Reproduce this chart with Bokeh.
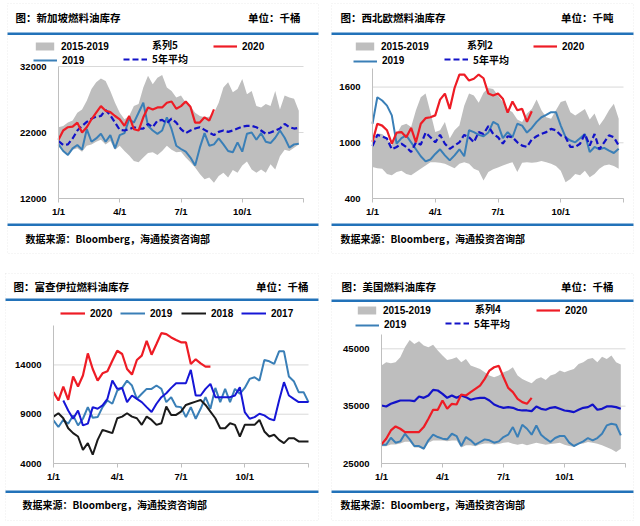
from bokeh.plotting import figure
from bokeh.models import Range1d, FixedTicker, Label, BoxAnnotation, Legend, LegendItem, LinearAxis
from bokeh.layouts import column, row
from bokeh.embed import file_html
from bokeh.resources import INLINE

# ---------------- data ----------------
weeks = list(range(53))
x_first, x_last = 0, 52
x_tick_pos = [0, 13, 26, 39, 52]
x_tick_labels = ["1/1", "4/1", "7/1", "10/1", ""]

# Singapore (千桶)
sg_yticks = [12000, 22000, 32000]
sg_hi = [22800, 23000, 23500, 23800, 25000, 25500, 26800, 28600, 29600, 30200, 29800, 28300, 26500, 25000, 24000, 24500, 26000, 26300, 28800, 30600, 29300, 30300, 30700, 28800, 28300, 27300, 27600, 26500, 26000, 25000, 24500, 24300, 24400, 25000, 26500, 28800, 29600, 28100, 28600, 30100, 27800, 28300, 26000, 25800, 26300, 26000, 28300, 25500, 27600, 27300, 27100, 25300]
sg_lo = [20000, 19100, 18500, 19400, 19600, 19100, 20000, 20200, 20600, 20900, 20200, 20700, 19400, 20000, 19200, 18500, 17700, 17500, 18200, 18900, 19000, 18600, 19200, 20000, 19400, 19000, 19100, 18200, 17500, 16700, 15700, 14900, 15200, 14400, 15400, 15900, 15200, 16300, 15900, 17000, 17600, 16400, 15900, 16400, 15900, 17200, 16400, 18400, 19400, 19200, 19700, 20200]
sg_2019 = [20200, 19200, 18600, 19600, 20100, 19400, 22500, 20600, 21100, 21800, 20600, 21600, 19600, 21600, 21900, 24000, 23500, 25000, 26500, 23000, 22300, 21800, 22300, 24300, 22500, 20000, 19500, 19100, 18200, 17000, 19700, 21900, 20000, 20200, 21100, 20200, 19200, 19000, 20500, 19100, 21800, 22000, 20900, 21900, 20600, 20400, 21200, 22300, 21200, 19700, 20200, 20300]
sg_avg = [20700, 20100, 20200, 21100, 22300, 23000, 23600, 24100, 24400, 24500, 25400, 24600, 23500, 22400, 22300, 22500, 22800, 22600, 22600, 23300, 22800, 23800, 23900, 23400, 24100, 23500, 22500, 21900, 22300, 22600, 22800, 22400, 22000, 21600, 22100, 22300, 22100, 22300, 22600, 22900, 23000, 23000, 22800, 22300, 21800, 22000, 22300, 22600, 23300, 22800, 22600, 22700]
sg_2020 = [20900, 22300, 22800, 22900, 23500, 22000, 22800, 24000, 25000, 26000, 25300, 25100, 24500, 24000, 23000, 24500, 22500, 22300, 24300, 25800, 25500, 25800, 25800, 26500, 26700, 25600, 26000, 26700, 25900, 23500, 23500, 24300, 23800, 25500]

# NW Europe (千吨)
nw_yticks = [400, 1000, 1600]
nw_hi = [1005, 1100, 1095, 1045, 970, 1095, 1185, 1205, 1170, 1350, 1490, 1530, 1330, 1115, 1135, 1225, 1045, 1135, 1185, 1400, 1530, 1510, 1430, 1540, 1590, 1580, 1510, 1440, 1365, 1330, 1250, 1225, 1315, 1365, 1465, 1350, 1275, 1260, 1350, 1440, 1455, 1330, 1295, 1330, 1365, 1250, 1315, 1185, 1260, 1350, 1420, 1260]
nw_lo = [740, 725, 720, 665, 650, 685, 700, 665, 650, 685, 720, 755, 790, 790, 785, 775, 750, 725, 775, 790, 775, 720, 700, 595, 685, 715, 735, 755, 775, 790, 685, 785, 790, 785, 790, 805, 790, 775, 750, 700, 575, 610, 665, 650, 700, 630, 665, 720, 755, 765, 750, 720]
nw_2019 = [1205, 1490, 1455, 1400, 1295, 990, 1050, 1080, 1005, 930, 855, 800, 820, 880, 930, 865, 810, 865, 930, 855, 1135, 1115, 1085, 1070, 1110, 1225, 1195, 1050, 1115, 1060, 1205, 1185, 1110, 1160, 1225, 1275, 1300, 1330, 1330, 1185, 1060, 1025, 1005, 1050, 1095, 900, 955, 930, 945, 915, 890, 935]
nw_avg = [965, 1085, 1070, 1045, 930, 955, 990, 955, 900, 1005, 980, 1110, 1060, 1005, 1085, 990, 935, 970, 1005, 1085, 1060, 1005, 1115, 1095, 1180, 1095, 1060, 990, 1070, 1060, 1005, 970, 955, 1035, 1070, 1095, 1115, 1150, 1135, 1080, 1060, 955, 955, 990, 1095, 970, 1095, 930, 1005, 1080, 1060, 970]
nw_2020 = [1010, 1205, 1185, 1135, 990, 1110, 1115, 1060, 1160, 1005, 1205, 1265, 1275, 1295, 1465, 1530, 1365, 1590, 1735, 1735, 1670, 1690, 1735, 1695, 1530, 1510, 1530, 1475, 1325, 1445, 1350, 1365, 1225, 1340]

# Fujairah (千桶)
fj_yticks = [4000, 9000, 14000]
fj_2020 = [11240, 10390, 11810, 10460, 12820, 11810, 12920, 15170, 13590, 12410, 13150, 13360, 14430, 15440, 15110, 13590, 13020, 14500, 14940, 16450, 15040, 16120, 17230, 17130, 16790, 16520, 16290, 16290, 14100, 14570, 14160, 13830, 13830]
fj_2019 = [8370, 7700, 8440, 8040, 8880, 7870, 8540, 9720, 8640, 8710, 9720, 10390, 10060, 11400, 11670, 12410, 11910, 10560, 11070, 11570, 11570, 11910, 11570, 10230, 10730, 9790, 9720, 8710, 9720, 8540, 9550, 10730, 9550, 11670, 10230, 11570, 10230, 11570, 11070, 11670, 12580, 12750, 12410, 14500, 14370, 14100, 15380, 15380, 12820, 12350, 11240, 11240, 10230]
fj_2018 = [8760, 9100, 8590, 7580, 7080, 6740, 5390, 6070, 4890, 6400, 7410, 7250, 7080, 8590, 8760, 9100, 8760, 8590, 7920, 8760, 8420, 7920, 8090, 9770, 8930, 8930, 9270, 9940, 10110, 10280, 10440, 9940, 9270, 8590, 7580, 7580, 8090, 7920, 6740, 7920, 7920, 7920, 8420, 7250, 6740, 6910, 6400, 6070, 6570, 6570, 6240, 6240, 6240]
fj_2017_start = 2
fj_2017 = [10390, 9380, 8540, 9380, 7870, 8040, 9720, 9550, 9890, 10560, 12410, 11570, 11670, 10230, 10900, 10560, 10230, 9720, 9220, 10060, 10730, 11130, 11670, 12140, 12140, 12140, 13490, 10900, 10900, 11570, 12080, 10730, 10730, 10730, 10730, 10900, 11740, 9220, 8540, 8710, 9050, 8880, 8540, 8370, 10390, 12250, 10900, 10560, 10230, 10230, 10230]

# USA (千桶)
us_yticks = [25000, 35000, 45000]
us_hi = [42080, 42660, 42480, 42660, 43530, 45270, 46540, 45850, 46310, 45560, 45270, 45730, 44690, 43820, 43060, 43240, 43530, 42660, 43240, 42080, 41790, 41500, 40920, 40340, 40050, 40340, 40920, 41210, 41790, 40340, 39760, 39350, 39010, 39760, 40050, 39580, 40340, 40630, 41210, 40920, 41210, 41500, 42370, 42660, 43240, 43410, 42660, 43640, 43240, 43820, 42660, 42250]
us_lo = [28000, 28000, 28300, 28300, 28500, 28800, 28800, 27800, 27800, 27400, 28600, 29000, 29000, 29000, 28900, 29000, 29000, 27800, 28200, 28200, 28000, 28300, 28500, 28500, 28300, 28400, 28600, 28700, 28460, 28280, 28460, 28170, 28400, 28630, 28460, 28280, 28400, 28510, 28630, 28280, 28050, 27900, 28400, 28510, 28750, 28630, 28460, 28170, 27820, 27470, 27010, 27590]
us_2019 = [28280, 28280, 29500, 28630, 28860, 30190, 29210, 28050, 28050, 27590, 29040, 30020, 29610, 29330, 29210, 30190, 29790, 28050, 29610, 29040, 28280, 28750, 29210, 29040, 28630, 28860, 29610, 30020, 31350, 29610, 31760, 31060, 30020, 31640, 30020, 29330, 28750, 29440, 29790, 29790, 28630, 28050, 28460, 28860, 29440, 29040, 29440, 30190, 31640, 31930, 31760, 29900]
us_avg = [35120, 34950, 35410, 35700, 35990, 35990, 35990, 35870, 36690, 36450, 36860, 37850, 37730, 37150, 36450, 36860, 36450, 36860, 36570, 36110, 36340, 36450, 36450, 35990, 35290, 34950, 34710, 34830, 34710, 34370, 34250, 34250, 34140, 34950, 34540, 34370, 34710, 34830, 34540, 34250, 34140, 33960, 34370, 34710, 34830, 35290, 34370, 34540, 34950, 34950, 34830, 34540]
us_2020 = [28340, 29320, 30770, 31470, 31060, 30480, 30480, 30480, 30480, 31350, 32800, 34370, 34370, 35990, 34540, 35410, 35290, 37030, 36860, 37440, 38020, 38600, 39760, 41210, 41790, 42020, 40050, 38190, 37440, 36280, 35700, 35410, 36450]

# ---------------- style ----------------
NUM_FONT = "Liberation Sans"
CJK_FONT = "Noto Sans CJK SC"
RED = "#EE1C25"
STEEL = "#3A7FB7"
NAVY = "#1212C8"
BLACK = "#1A1A1A"
BLUE17 = "#1616D6"
GRAY = "#BEBEBE"
HDR = "#2272B9"
SRC = "数据来源：Bloomberg，海通投资咨询部"


class Panel:
    """One chart panel; the plot frame fills the whole canvas, the axes are drawn at fixed locations."""

    def __init__(self, ox, oy, w, h, data_px, yr, yticks):
        # ox, oy: page position of the canvas; data_px: (left, right, bottom, top) page px of the data box
        self.ox, self.oy, self.w, self.h = ox, oy, w, h
        L, R, B, T = data_px
        ymin, ymax = yr
        kx = (R - L) / (x_last - x_first)
        ky = (B - T) / (ymax - ymin)
        cl, cr, cb, ct = L - ox, R - ox, B - oy, T - oy
        xr = Range1d(x_first - cl / kx, x_last + (w - cr) / kx)
        yrng = Range1d(ymin - (h - cb) / ky, ymax + ct / ky)
        p = figure(width=w, height=h, output_backend="svg", toolbar_location=None, title=None,
                   x_range=xr, y_range=yrng, x_axis_location=None, y_axis_location=None,
                   min_border=0, min_border_left=0, min_border_right=0, min_border_top=0,
                   min_border_bottom=0)
        p.outline_line_color = None
        p.background_fill_color = "white"
        p.border_fill_color = "white"
        p.xgrid.visible = False
        p.ygrid.visible = False
        p.segment(x0=[x_first] * len(yticks), x1=[x_last] * len(yticks), y0=yticks, y1=yticks,
                  line_color="#D9D9D9", line_width=1)
        yax = LinearAxis(fixed_location=x_first, bounds=(ymin, ymax), ticker=FixedTicker(ticks=yticks))
        xax = LinearAxis(fixed_location=ymin, bounds=(x_first, x_last), ticker=FixedTicker(ticks=x_tick_pos),
                         major_label_overrides={k: v for k, v in zip(x_tick_pos, x_tick_labels)})
        for ax in (xax, yax):
            ax.axis_line_color = "#BFBFBF"
            ax.major_label_text_font = NUM_FONT
            ax.major_label_text_font_style = "bold"
            ax.major_label_text_font_size = "9.5px"
            ax.major_label_text_color = "#000000"
            ax.minor_tick_line_color = None
        yax.major_tick_line_color = None
        yax.major_label_standoff = 6
        xax.major_tick_line_color = "#BFBFBF"
        xax.major_tick_out = 4
        xax.major_tick_in = 0
        xax.major_label_standoff = 3
        p.add_layout(yax, "left")
        p.add_layout(xax, "below")
        self.p = p

    def sx(self, X):
        return X - self.ox

    def sy(self, Y):
        return self.h - (Y - self.oy)

    def text(self, t, X, Y, align="left", size="10.5px"):
        self.p.add_layout(Label(x=self.sx(X), y=self.sy(Y), x_units="screen", y_units="screen", text=t,
                                text_align=align, text_baseline="middle", text_font=CJK_FONT,
                                text_font_style="bold", text_font_size=size, text_color="#000000"))

    def box(self, X0, X1, Y0, Y1, color=None, border=False):
        kw = dict(left=self.sx(X0), right=self.sx(X1), top=self.sy(Y0), bottom=self.sy(Y1),
                  left_units="screen", right_units="screen", top_units="screen", bottom_units="screen")
        if border:
            self.p.add_layout(BoxAnnotation(fill_alpha=0, line_color="#C4C4C4", line_dash="1 2",
                                            line_width=1, **kw))
        else:
            self.p.add_layout(BoxAnnotation(fill_color=color, fill_alpha=1, line_color=None, **kw))

    def leg(self, r, label, X, Yc, cjk=False, gw=24):
        lg = Legend(items=[LegendItem(label=label, renderers=[r])], location=(self.sx(X), self.sy(Yc + 6)),
                    orientation="horizontal", glyph_width=gw, glyph_height=10, label_standoff=5,
                    label_height=12, label_width=10, padding=0, margin=0, spacing=0,
                    border_line_color=None, background_fill_alpha=0,
                    label_text_font=CJK_FONT if cjk else NUM_FONT, label_text_font_style="bold",
                    label_text_font_size="10px", label_text_color="#000000")
        self.p.add_layout(lg)

    def decorate(self, title, unit, title_xy, unit_xy, hdr_y, bot_y, src_xy, xl, xr, border):
        self.text(title, *title_xy)
        self.text(unit, *unit_xy, align="right")
        self.box(xl, xr, hdr_y, hdr_y + 2.6, HDR)
        self.box(xl, xr, bot_y, bot_y + 2.6, HDR)
        self.text(SRC, *src_xy, size="10px")
        bl, br, bt, bb = border
        self.box(bl, br, bt, bb, border=True)


# ---------------- Singapore (top-left) ----------------
P1 = Panel(0, 0, 320, 265, (58, 303, 198, 66), (12000, 32000), sg_yticks)
p = P1.p
r_band = p.varea(x=weeks[:len(sg_hi)], y1=sg_lo, y2=sg_hi, fill_color=GRAY)
r_19 = p.line(weeks[:len(sg_2019)], sg_2019, line_color=STEEL, line_width=2)
r_avg = p.line(weeks[:len(sg_avg)], sg_avg, line_color=NAVY, line_width=2.2, line_dash="6 3")
r_20 = p.line(weeks[:len(sg_2020)], sg_2020, line_color=RED, line_width=2.2)
r_nil = p.line([], [], line_alpha=0)
P1.leg(r_band, "2015-2019", 33, 46, gw=23)
P1.leg(r_nil, "系列5", 123, 46, cjk=True)
P1.leg(r_20, "2020", 213, 46)
P1.leg(r_19, "2019", 33, 60)
P1.leg(r_avg, "5年平均", 123, 60, cjk=True)
P1.decorate("图：新加坡燃料油库存", "单位：千桶", (15, 17), (300, 17), 32, 223,
            (25, 238), 7, 318, (7, 318, 3, 253))

# ---------------- NW Europe (top-right) ----------------
P2 = Panel(320, 0, 318, 265, (372, 623, 198, 68), (400, 1800), nw_yticks)
p = P2.p
r_band = p.varea(x=weeks[:len(nw_hi)], y1=nw_lo, y2=nw_hi, fill_color=GRAY)
r_19 = p.line(weeks[:len(nw_2019)], nw_2019, line_color=STEEL, line_width=2)
r_avg = p.line(weeks[:len(nw_avg)], nw_avg, line_color=NAVY, line_width=2.2, line_dash="6 3")
r_20 = p.line(weeks[:len(nw_2020)], nw_2020, line_color=RED, line_width=2.2)
r_nil = p.line([], [], line_alpha=0)
P2.leg(r_band, "2015-2019", 353, 46, gw=23)
P2.leg(r_nil, "系列2", 438, 46, cjk=True)
P2.leg(r_20, "2020", 533, 46)
P2.leg(r_19, "2019", 353, 60.5)
P2.leg(r_avg, "5年平均", 444, 60.5, cjk=True)
P2.decorate("图：西北欧燃料油库存", "单位：千吨", (340, 17), (613, 17), 32, 223,
            (340, 238), 331, 633, (331, 633, 3, 253))

# ---------------- Fujairah (bottom-left) ----------------
P3 = Panel(0, 265, 320, 259, (53, 308, 463, 325), (4000, 18000), fj_yticks)
p = P3.p
r_19 = p.line(weeks[:len(fj_2019)], fj_2019, line_color=STEEL, line_width=2)
r_18 = p.line(weeks[:len(fj_2018)], fj_2018, line_color=BLACK, line_width=2)
r_17 = p.line(weeks[fj_2017_start:fj_2017_start + len(fj_2017)], fj_2017, line_color=BLUE17, line_width=2)
r_20 = p.line(weeks[:len(fj_2020)], fj_2020, line_color=RED, line_width=2.2)
P3.leg(r_20, "2020", 60, 313, gw=25)
P3.leg(r_19, "2019", 120, 313, gw=25)
P3.leg(r_18, "2018", 181, 313, gw=25)
P3.leg(r_17, "2017", 241, 313, gw=25)
P3.decorate("图：富查伊拉燃料油库存", "单位：千桶", (13, 286), (308, 286), 298, 490,
            (22, 504), 5, 318, (5, 318, 273, 520))

# ---------------- USA (bottom-right) ----------------
P4 = Panel(320, 265, 318, 259, (381, 625, 463, 334), (25000, 47500), us_yticks)
p = P4.p
r_band = p.varea(x=weeks[:len(us_hi)], y1=us_lo, y2=us_hi, fill_color=GRAY)
r_19 = p.line(weeks[:len(us_2019)], us_2019, line_color=STEEL, line_width=2)
p.line(weeks[:len(us_avg)], us_avg, line_color=NAVY, line_width=2.2)
r_20 = p.line(weeks[:len(us_2020)], us_2020, line_color=RED, line_width=2.2)
# one-point dashed renderer: draws nothing in the plot, gives the dashed legend key
r_avg_leg = p.line(weeks[:1], us_avg[:1], line_color=NAVY, line_width=2.2, line_dash="6 3")
r_nil = p.line([], [], line_alpha=0)
P4.leg(r_band, "2015-2019", 355, 310, gw=23)
P4.leg(r_nil, "系列4", 446, 310, cjk=True)
P4.leg(r_20, "2020", 536, 310)
P4.leg(r_19, "2019", 355, 324.5)
P4.leg(r_avg_leg, "5年平均", 445, 324.5, cjk=True)
P4.decorate("图：美国燃料油库存", "单位：千桶", (341, 286), (613, 286), 299, 490,
            (340, 504), 331, 633, (331, 633, 273, 520))

layout = column(row(P1.p, P2.p), row(P3.p, P4.p))
open("out.html", "w").write(file_html(layout, INLINE))
